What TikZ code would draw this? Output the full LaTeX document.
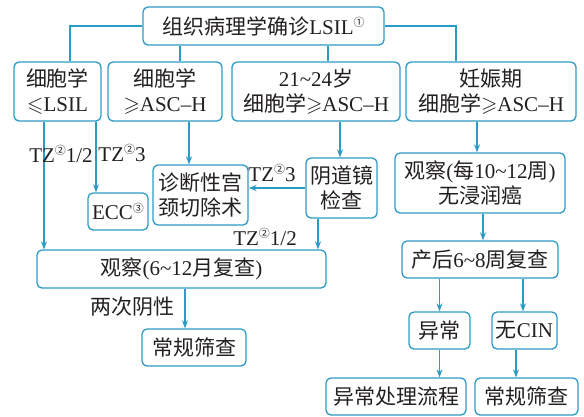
\documentclass[tikz,border=0pt]{standalone}
\usepackage{fontspec}
\usepackage{amssymb}
\setmainfont{Liberation Serif}
\newfontfamily\cjkfont{Noto Sans CJK SC}
\newcommand\zh[1]{{\cjkfont #1}}
\newcommand\myfs{\fontsize{21}{25}\selectfont}
\newcommand\cn[1]{\raisebox{0.75ex}{\fontsize{11}{11}\selectfont\cjkfont #1}}
\newcommand\tl{\textasciitilde}
\usetikzlibrary{calc,arrows.meta}
\definecolor{ln}{HTML}{2B9AC4}
\definecolor{tx}{HTML}{231F20}
\begin{document}
\begin{tikzpicture}[x=1pt,y=1pt,
  box/.style={draw=ln, line width=1.3pt, rounded corners=5pt, align=center, inner sep=0pt, text=tx, font=\myfs},
  con/.style={draw=ln, line width=1.3pt},
  arr/.style={con, -{Stealth[length=8pt,width=6pt]}},
  lab/.style={text=tx, font=\myfs, inner sep=0pt}]
\useasboundingbox (0,0) rectangle (584,-416);

\node[box, minimum width=241, minimum height=38] (top) at (263.5,-26) {\zh{组织病理学确诊}LSIL\cn{①}};
\node[box, minimum width=87, minimum height=59] (b1) at (57.5,-91.5) {\zh{细胞学}\\$\leqslant$LSIL};
\node[box, minimum width=114, minimum height=59] (b2) at (165,-91.5) {\zh{细胞学}\\$\geqslant$ASC--H};
\node[box, minimum width=168, minimum height=59] (b3) at (316,-91.5) {21\tl24\zh{岁}\\\zh{细胞学}$\geqslant$ASC--H};
\node[box, minimum width=170, minimum height=59] (b4) at (491,-91.5) {\zh{妊娠期}\\\zh{细胞学}$\geqslant$ASC--H};

\node[box, minimum width=60, minimum height=37] (ecc) at (118,-211.5) {ECC\cn{③}};
\node[box, minimum width=95, minimum height=60] (zd) at (200.5,-195) {\zh{诊断性宫}\\\zh{颈切除术}};
\node[box, minimum width=71, minimum height=60] (ydj) at (341.5,-188) {\zh{阴道镜}\\\zh{检查}};
\node[box, minimum width=289, minimum height=38] (gc) at (181.5,-269) {\zh{观察}(6\tl12\zh{月复查})};
\node[box, minimum width=104, minimum height=37] (cg1) at (194,-347.5) {\zh{常规筛查}};

\node[box, minimum width=170, minimum height=60] (gcm) at (480,-183) {\zh{观察}(\zh{每}10\tl12\zh{周})\\\zh{无浸润癌}};
\node[box, minimum width=156, minimum height=37] (ch) at (480,-259.5) {\zh{产后}6\tl8\zh{周复查}};
\node[box, minimum width=61, minimum height=37] (yc) at (439.5,-330.5) {\zh{异常}};
\node[box, minimum width=65, minimum height=37] (wc) at (524.5,-330.5) {\zh{无}CIN};
\node[box, minimum width=140, minimum height=37] (yccl) at (396,-396.5) {\zh{异常处理流程}};
\node[box, minimum width=103, minimum height=37] (cg2) at (526.5,-396.5) {\zh{常规筛查}};

% level 1 connectors
\draw[con] (top.west) -| ([xshift=12.5pt]b1.north);
\draw[con] (top.east) -| ([xshift=-35pt]b4.north);
\draw[con] ([xshift=15pt]b2.north |- top.south) -- ([xshift=15pt]b2.north);
\draw[con] ([xshift=12pt]b3.north |- top.south) -- ([xshift=12pt]b3.north);

% left branch
\draw[arr] ([xshift=-13.5pt]b1.south) -- ([xshift=-13.5pt]b1.south |- gc.north);
\draw[arr] ([xshift=38.5pt]b1.south) -- ([xshift=38.5pt]b1.south |- ecc.north);
\draw[arr] ([xshift=24pt]b2.south) -- ([xshift=24pt]b2.south |- zd.north);
\draw[arr] ([xshift=-1.5pt]ydj.north |- b3.south) -- ([xshift=-1.5pt]ydj.north);
\draw[arr] (ydj.west) -- (zd.east |- ydj.west);
\draw[arr] ([xshift=-23.5pt]ydj.south) -- ([xshift=-23.5pt]ydj.south |- gc.north);
\draw[arr] ([xshift=-9pt]cg1.north |- gc.south) -- ([xshift=-9pt]cg1.north);

% right branch
\draw[arr] ([xshift=-14pt]b4.south) -- ([xshift=-14pt]b4.south |- gcm.north);
\draw[arr] ([xshift=3pt]gcm.south) -- ([xshift=3pt]gcm.south |- ch.north);
\draw[arr] (yc.north |- ch.south) -- (yc.north);
\draw[arr] ([xshift=-1.5pt]wc.north |- ch.south) -- ([xshift=-1.5pt]wc.north);
\draw[arr] (yc.south) -- (yc.south |- yccl.north);
\draw[arr] ([xshift=-10.5pt]cg2.north |- wc.south) -- ([xshift=-10.5pt]cg2.north);

% labels
\node[lab] (l1) at (61,-154) {TZ\cn{②}1/2};
\node[lab] (l2) at (122,-153) {TZ\cn{②}3};
\node[lab] (l3) at (272,-173) {TZ\cn{②}3};
\node[lab] (l4) at (265,-237) {TZ\cn{②}1/2};
\node[lab] (l5) at (132,-307) {\zh{两次阴性}};
\end{tikzpicture}
\end{document}
